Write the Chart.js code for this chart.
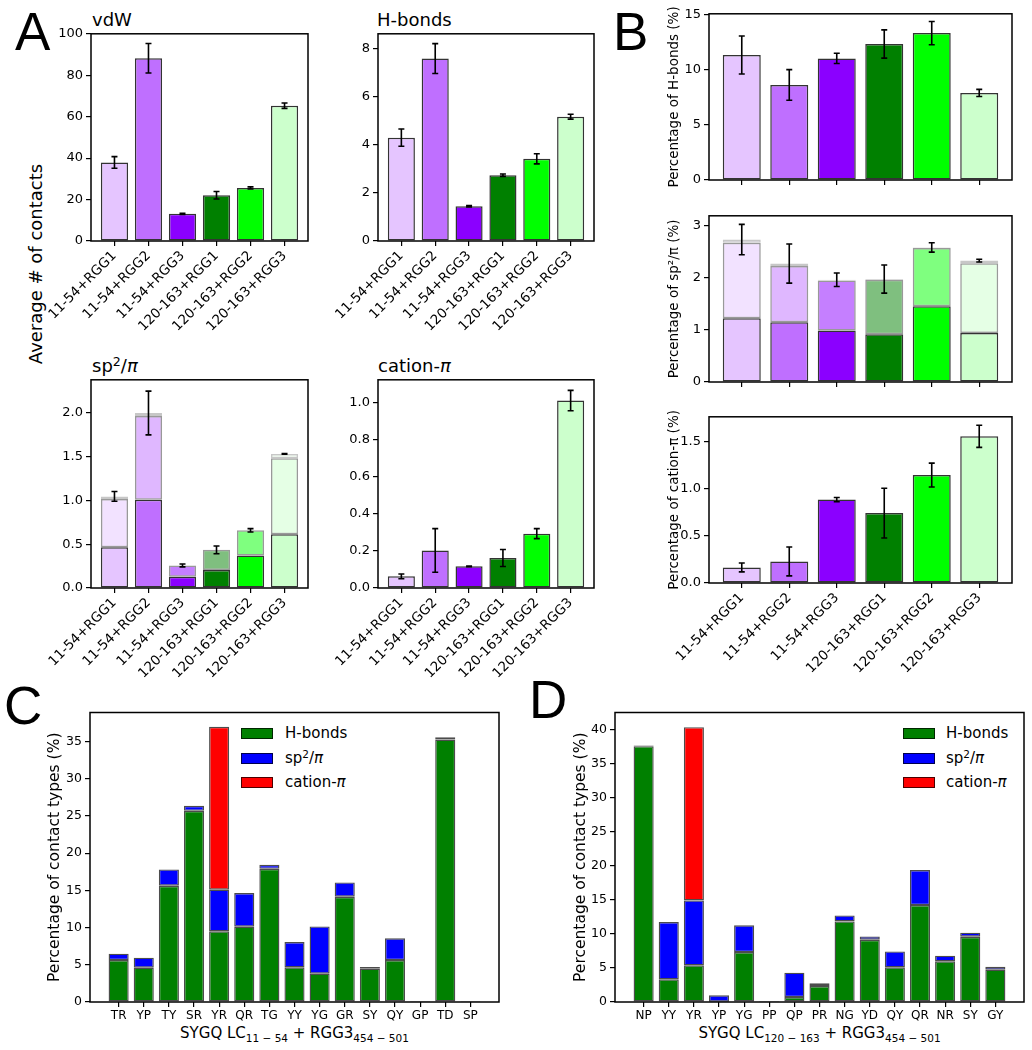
<!DOCTYPE html>
<html>
<head>
<meta charset="utf-8">
<script src="https://cdn.jsdelivr.net/npm/chart.js@4"></script>
<style>
  body { margin: 0; background: #fff; }
  #fig { position: relative; width: 1032px; height: 1050px; overflow: hidden; background: #fff;
         font-family: "DejaVu Sans", sans-serif; color: #000; }
  canvas { position: absolute; }
  .txt { position: absolute; line-height: 1; white-space: nowrap; }
  .letter { font-family: "Liberation Sans", Arial, sans-serif; font-size: 53px; }
  .ttl { font-size: 18px; }
  .xl { font-size: 15px; text-align: center; width: 409px; }
  .yl { font-size: 18px; transform: translate(-50%, -50%) rotate(-90deg); }
  sub { font-size: 0.7em; vertical-align: -0.35em; line-height: 0; }
  sup { font-size: 0.7em; vertical-align: 0.45em; line-height: 0; }
  .sw { position: absolute; width: 30px; height: 9px; border: 1px solid rgba(0,0,0,0.7); }
  .lt { position: absolute; font-size: 15px; line-height: 18px; white-space: nowrap; }
</style>
</head>
<body>
<div id="fig">
  <div class="txt letter" style="left:15px; top:5px;">A</div>
  <div class="txt letter" style="left:613px; top:5px;">B</div>
  <div class="txt letter" style="left:4px; top:679px;">C</div>
  <div class="txt letter" style="left:529px; top:673px;">D</div>

  <div class="txt ttl" style="left:92px; top:11px;">vdW</div>
  <div class="txt ttl" style="left:377px; top:11px;">H-bonds</div>
  <div class="txt ttl" style="left:92px; top:357px;">sp<sup>2</sup>/<i>π</i></div>
  <div class="txt ttl" style="left:378px; top:357px;">cation-<i>π</i></div>
  <div class="txt yl" style="left:36px; top:264px;">Average # of contacts</div>

  <div class="txt xl" style="left:90px; top:1026px;">SYGQ LC<sub>11 − 54</sub> + RGG3<sub>454 − 501</sub></div>
  <div class="txt xl" style="left:615px; top:1026px;">SYGQ LC<sub>120 − 163</sub> + RGG3<sub>454 − 501</sub></div>

  <div class="sw" style="left:241px; top:728px; background:#008000;"></div>
  <div class="sw" style="left:241px; top:753px; background:#0000ff;"></div>
  <div class="sw" style="left:241px; top:777px; background:#ff0000;"></div>
  <div class="lt" style="left:285px; top:724px;">H-bonds</div>
  <div class="lt" style="left:285px; top:749px;">sp<sup>2</sup>/<i>π</i></div>
  <div class="lt" style="left:285px; top:773px;">cation-<i>π</i></div>

  <div class="sw" style="left:903px; top:728px; background:#008000;"></div>
  <div class="sw" style="left:903px; top:753px; background:#0000ff;"></div>
  <div class="sw" style="left:903px; top:777px; background:#ff0000;"></div>
  <div class="lt" style="left:946px; top:724px;">H-bonds</div>
  <div class="lt" style="left:946px; top:749px;">sp<sup>2</sup>/<i>π</i></div>
  <div class="lt" style="left:946px; top:773px;">cation-<i>π</i></div>
</div>
<script>
// systems compared in panels A and B
const systems = ["11-54+RGG1", "11-54+RGG2", "11-54+RGG3", "120-163+RGG1", "120-163+RGG2", "120-163+RGG3"];

// A: average number of contacts
const vdwMean = [37.9, 88.2, 13.1, 22.1, 25.6, 65.3];
const vdwErr = [2.8, 7.1, 0.3, 1.8, 0.5, 1.3];
const hbMean = [4.30, 7.59, 1.45, 2.74, 3.42, 5.17];
const hbErr = [0.36, 0.62, 0.03, 0.05, 0.21, 0.10];
const spLow = [0.467, 1.01, 0.129, 0.205, 0.372, 0.615];
const spMid = [0.55, 0.956, 0.129, 0.231, 0.288, 0.869];
const spTop = [0.03, 0.034, 0, 0, 0, 0.049];
const spErr = [0.056, 0.25, 0.017, 0.044, 0.019, 0.004];
const catMean = [0.063, 0.203, 0.117, 0.162, 0.294, 1.014];
const catErr = [0.013, 0.118, 0.002, 0.046, 0.027, 0.055];

// B: percentages
const hbPct = [11.33, 8.61, 11.02, 12.32, 13.31, 7.89];
const hbPctErr = [1.72, 1.39, 0.47, 1.28, 1.05, 0.32];
const spPctLow = [1.22, 1.144, 0.985, 0.915, 1.45, 0.94];
const spPctMid = [1.45, 1.081, 0.96, 1.043, 1.118, 1.336];
const spPctTop = [0.06, 0.045, 0.015, 0.015, 0.01, 0.05];
const spPctErr = [0.29, 0.375, 0.13, 0.27, 0.09, 0.025];
const catPct = [0.165, 0.228, 0.883, 0.74, 1.143, 1.553];
const catPctErr = [0.047, 0.153, 0.023, 0.263, 0.126, 0.117];

// C: residue pairs, LC 11-54
const pairsC = ["TR", "YP", "TY", "SR", "YR", "QR", "TG", "YY", "YG", "GR", "SY", "QY", "GP", "TD", "SP"];
const hbC = [5.64, 4.61, 15.62, 25.69, 9.49, 10.12, 17.9, 4.66, 3.8, 14.14, 4.48, 5.64, 0.15, 35.27, 0.15];
const spC = [0.85, 1.34, 2.2, 0.68, 5.6, 4.52, 0.54, 3.4, 6.36, 1.93, 0.22, 2.91, 0, 0.32, 0];
const catC = [0, 0, 0, 0, 21.88, 0, 0, 0, 0, 0, 0, 0, 0, 0, 0];

// D: residue pairs, LC 120-163
const pairsD = ["NP", "YY", "YR", "YP", "YG", "PP", "QP", "PR", "NG", "YD", "QY", "QR", "NR", "SY", "GY"];
const hbD = [37.55, 3.33, 5.38, 0.05, 7.33, 0.15, 0.73, 2.35, 11.83, 9.14, 5.09, 14.23, 5.97, 9.58, 4.74];
const spD = [0.1, 8.41, 9.53, 0.93, 3.92, 0, 3.57, 0.39, 0.88, 0.49, 2.34, 5.13, 0.83, 0.59, 0.44];
const catD = [0, 0, 25.43, 0, 0, 0, 0, 0, 0, 0, 0, 0, 0, 0, 0];

// y tick values
const vdwTicks = [0, 20, 40, 60, 80, 100];
const hbTicks = [0, 2, 4, 6, 8];
const spTicks = [0, 0.5, 1, 1.5, 2];
const catTicks = [0, 0.2, 0.4, 0.6, 0.8, 1];
const hbPctTicks = [0, 5, 10, 15];
const spPctTicks = [0, 1, 2, 3];
const catPctTicks = [0, 0.5, 1, 1.5];
const pctTicksC = [0, 5, 10, 15, 20, 25, 30, 35];
const pctTicksD = [0, 5, 10, 15, 20, 25, 30, 35, 40];

const sysColors = [[229, 197, 255], [191, 111, 255], [139, 0, 255], [0, 128, 0], [0, 255, 0], [204, 255, 204]];
const rgba = (c, a) => `rgba(${c[0]},${c[1]},${c[2]},${a})`;
const FONT = "'DejaVu Sans', sans-serif";
const fig = document.getElementById("fig");

// zero segments are left out so they draw no edge
function pts(vals) {
  return vals.map((v, i) => ({ x: i, y: v === 0 ? null : v }));
}

function sysSet(vals, alpha, edge) {
  return {
    data: pts(vals),
    backgroundColor: sysColors.map(c => rgba(c, alpha)),
    borderColor: edge,
    borderWidth: 1.5,
    borderSkipped: false,
  };
}

function pairSet(vals, color) {
  return {
    data: pts(vals),
    backgroundColor: color,
    borderColor: "rgba(0,0,0,0.7)",
    borderWidth: 1.4,
    borderSkipped: false,
  };
}

// error bars + full axes frame
function framePlugin(err) {
  return {
    id: "frame",
    afterDatasetsDraw(chart) {
      const { ctx, chartArea: a, scales } = chart;
      ctx.save();
      if (err) {
        ctx.strokeStyle = "#000";
        ctx.lineWidth = 1.6;
        err.forEach((e, i) => {
          let c = 0;
          chart.data.datasets.forEach(d => (c += d.data[i].y || 0));
          const x = scales.x.getPixelForValue(i);
          const y1 = scales.y.getPixelForValue(c - e);
          const y2 = scales.y.getPixelForValue(c + e);
          ctx.beginPath();
          ctx.moveTo(x, y1); ctx.lineTo(x, y2);
          ctx.moveTo(x - 3, y1); ctx.lineTo(x + 3, y1);
          ctx.moveTo(x - 3, y2); ctx.lineTo(x + 3, y2);
          ctx.stroke();
        });
      }
      ctx.strokeStyle = "#000";
      ctx.lineWidth = 1.5;
      ctx.strokeRect(a.left, a.top, a.width, a.height);
      ctx.restore();
    },
  };
}

function addChart(box, labels, datasets, o) {
  const padTop = 10, padRight = 8;
  const w = box.left + box.W + padRight;
  const h = padTop + box.H + box.bottom;
  const cv = document.createElement("canvas");
  cv.width = w; cv.height = h;
  cv.style.left = box.L - box.left + "px";
  cv.style.top = box.T - padTop + "px";
  cv.style.width = w + "px";
  cv.style.height = h + "px";
  fig.appendChild(cv);

  const n = labels.length;
  const margin = 0.05 * (n - 1 + 0.8);
  const grid = { display: true, drawOnChartArea: false, drawTicks: true, tickLength: 5, color: "#000", lineWidth: 1.2, offset: false };

  return new Chart(cv, {
    type: "bar",
    data: { datasets },
    options: {
      responsive: false,
      animation: false,
      events: [],
      layout: { padding: { top: padTop, right: padRight, left: 0, bottom: 0 } },
      datasets: { bar: { barPercentage: 0.8, categoryPercentage: 1 } },
      plugins: { legend: { display: false }, tooltip: { enabled: false } },
      scales: {
        x: {
          type: "linear",
          offset: false,
          stacked: true,
          min: -0.4 - margin,
          max: n - 1 + 0.4 + margin,
          afterBuildTicks: s => { s.ticks = labels.map((_, i) => ({ value: i })); },
          afterFit: s => { s.height = box.bottom; },
          grid,
          border: { display: false },
          ticks: {
            display: o.xLabels !== false,
            autoSkip: false,
            minRotation: o.rot || 0,
            maxRotation: o.rot || 0,
            padding: 2,
            color: "#000",
            font: { family: FONT, size: o.xSize || 12 },
            callback: v => labels[Math.round(v)],
          },
        },
        y: {
          stacked: true,
          min: 0,
          max: o.ymax,
          afterBuildTicks: s => { s.ticks = o.ticks.map(v => ({ value: v })); },
          afterFit: s => { s.width = box.left; },
          grid,
          border: { display: false },
          ticks: {
            padding: 3,
            color: "#000",
            font: { family: FONT, size: o.ySize || 13 },
            callback: v => v.toFixed(o.dec || 0),
          },
          title: o.ytitle
            ? { display: true, text: o.ytitle, color: "#000", padding: 0, font: { family: FONT, size: o.ytSize || 13.5 } }
            : { display: false },
        },
      },
    },
    plugins: [framePlugin(o.err)],
  });
}

const edge1 = "rgba(0,0,0,0.8)", edge2 = "rgba(0,0,0,0.4)", edge3 = "rgba(0,0,0,0.22)";

// panel A
addChart({ L: 91, T: 33, W: 217, H: 208, left: 56, bottom: 100 }, systems,
  [sysSet(vdwMean, 1, edge1)], { ymax: 100, ticks: vdwTicks, err: vdwErr, rot: 45, xSize: 13.5 });
addChart({ L: 378, T: 33, W: 216, H: 208, left: 56, bottom: 100 }, systems,
  [sysSet(hbMean, 1, edge1)], { ymax: 8.62, ticks: hbTicks, err: hbErr, rot: 45, xSize: 13.5 });
addChart({ L: 91, T: 379, W: 217, H: 209, left: 56, bottom: 100 }, systems,
  [sysSet(spLow, 1, edge1), sysSet(spMid, 0.5, edge2), sysSet(spTop, 0.22, edge3)],
  { ymax: 2.38, ticks: spTicks, dec: 1, err: spErr, rot: 45, xSize: 13.5 });
addChart({ L: 378, T: 379, W: 216, H: 209, left: 56, bottom: 100 }, systems,
  [sysSet(catMean, 1, edge1)], { ymax: 1.126, ticks: catTicks, dec: 1, err: catErr, rot: 45, xSize: 13.5 });

// panel B
addChart({ L: 709, T: 13, W: 303, H: 167, left: 43, bottom: 12 }, systems,
  [sysSet(hbPct, 1, edge1)],
  { ymax: 15.06, ticks: hbPctTicks, err: hbPctErr, xLabels: false, ytitle: "Percentage of H-bonds (%)" });
addChart({ L: 709, T: 215, W: 303, H: 167, left: 43, bottom: 12 }, systems,
  [sysSet(spPctLow, 1, edge1), sysSet(spPctMid, 0.5, edge2), sysSet(spPctTop, 0.22, edge3)],
  { ymax: 3.185, ticks: spPctTicks, err: spPctErr, xLabels: false, ytitle: "Percentage of sp²/π (%)" });
addChart({ L: 709, T: 416, W: 303, H: 167, left: 43, bottom: 100 }, systems,
  [sysSet(catPct, 1, edge1)],
  { ymax: 1.76, ticks: catPctTicks, dec: 1, err: catPctErr, rot: 45, xSize: 13.5, ytitle: "Percentage of cation-π (%)" });

// panels C and D
addChart({ L: 90, T: 712, W: 409, H: 290, left: 44, bottom: 28 }, pairsC,
  [pairSet(hbC, "#008000"), pairSet(spC, "#0000ff"), pairSet(catC, "#ff0000")],
  { ymax: 38.9, ticks: pctTicksC, ySize: 12.5, ytitle: "Percentage of contact types (%)", ytSize: 15.5 });
addChart({ L: 615, T: 712, W: 409, H: 290, left: 43, bottom: 28 }, pairsD,
  [pairSet(hbD, "#008000"), pairSet(spD, "#0000ff"), pairSet(catD, "#ff0000")],
  { ymax: 42.5, ticks: pctTicksD, ySize: 12.5, ytitle: "Percentage of contact types (%)", ytSize: 15.5 });
</script>
</body>
</html>
